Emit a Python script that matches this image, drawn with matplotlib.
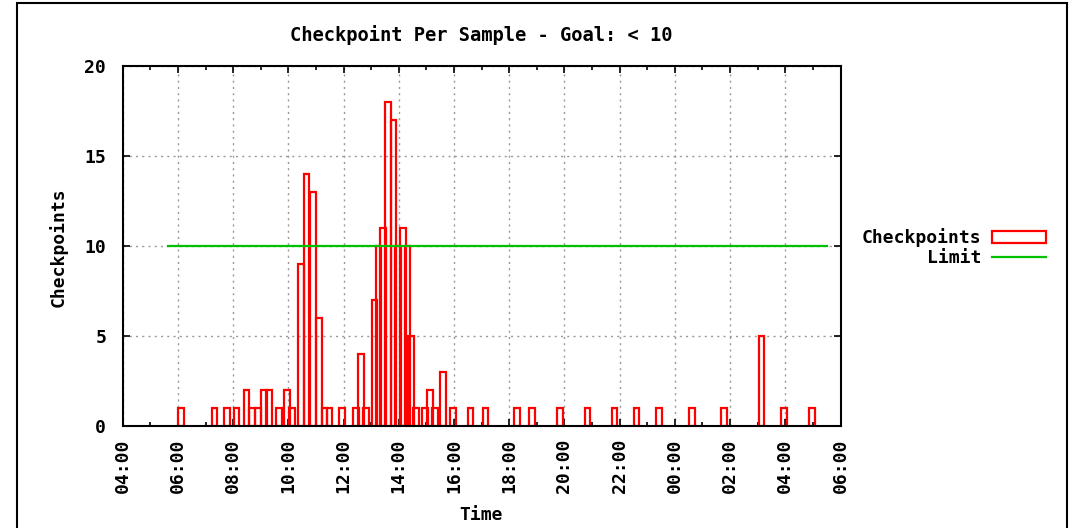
import matplotlib
matplotlib.use("Agg")
import matplotlib.pyplot as plt
import pandas as pd
from matplotlib.patches import Rectangle
from matplotlib.ticker import FuncFormatter, MultipleLocator

# Samples on the first day (HH:MM) and their checkpoint counts.
DAY1_TIMES = [
    "06:07", "07:19", "07:47", "08:07", "08:29", "08:41", "08:54", "09:07",
    "09:18", "09:40", "09:57", "10:08", "10:27", "10:39", "10:53", "11:07",
    "11:18", "11:29", "11:57", "12:27", "12:38", "12:49", "13:07", "13:16",
    "13:26", "13:37", "13:48", "13:58", "14:09", "14:19", "14:27", "14:37",
    "14:57", "15:08", "15:19", "15:36", "15:58", "16:36", "17:08", "18:17",
    "18:49", "19:50", "20:50", "21:49", "22:37", "23:26",
]
DAY1_COUNTS = [
    1, 1, 1, 1, 2, 1, 1, 2,
    2, 1, 2, 1, 9, 14, 13, 6,
    1, 1, 1, 1, 4, 1, 7, 10,
    11, 18, 17, 10, 11, 10, 5, 1,
    1, 2, 1, 3, 1, 1, 1, 1,
    1, 1, 1, 1, 1, 1,
]
# Samples after midnight.
DAY2_TIMES = ["00:37", "01:47", "03:08", "03:57", "04:58"]
DAY2_COUNTS = [1, 1, 5, 1, 1]

LIMIT = 10
LIMIT_START = "05:38"   # first sample, day 1
LIMIT_END = "05:31"     # last sample, day 2

X_RANGE = (4, 30)       # 04:00 to 06:00 next day, in hours
BOX_WIDTH = 0.2         # hours


def to_hours(times, day):
    td = pd.to_timedelta([t + ":00" for t in times])
    return (td / pd.Timedelta(hours=1)).to_numpy() + 24 * day


x = list(to_hours(DAY1_TIMES, 0)) + list(to_hours(DAY2_TIMES, 1))
counts = DAY1_COUNTS + DAY2_COUNTS
limit_x = [to_hours([LIMIT_START], 0)[0], to_hours([LIMIT_END], 1)[0]]

plt.rcParams["font.family"] = ["DejaVu Sans Mono"]
plt.rcParams["font.weight"] = "bold"
plt.rcParams["font.size"] = 13

fig = plt.figure(figsize=(10.74, 5.28), dpi=100)
ax = fig.add_axes([0.1143, 0.1938, 0.6683, 0.681])

bars = ax.bar(x, counts, width=BOX_WIDTH, fill=False, edgecolor="#ff0000",
              linewidth=1.6, label="Checkpoints")
limit_line, = ax.plot(limit_x, [LIMIT, LIMIT], color="#00c000", linewidth=1.6,
                      label="Limit")

ax.set_xlim(*X_RANGE)
ax.set_ylim(0, 20)
ax.xaxis.set_major_locator(MultipleLocator(2))
ax.xaxis.set_minor_locator(MultipleLocator(1))
ax.xaxis.set_major_formatter(FuncFormatter(lambda v, _: "%02d:00" % (int(round(v)) % 24)))
ax.yaxis.set_major_locator(MultipleLocator(5))
ax.tick_params(which="both", direction="in", top=True, right=True, width=1.2)
ax.tick_params(which="major", length=5)
ax.tick_params(which="minor", length=3)
ax.tick_params(axis="x", which="major", pad=9, labelrotation=90)
ax.tick_params(axis="y", which="major", pad=12)
for s in ax.spines.values():
    s.set_linewidth(1.5)
ax.grid(True, which="major", color="#999999", linestyle=(0, (1.5, 3)), linewidth=1)
ax.set_axisbelow(True)

fig.text(481 / 1074, 1 - 35 / 528, "Checkpoint Per Sample - Goal: < 10",
         ha="center", va="center", fontsize=13.5)
fig.text(481 / 1074, 1 - 515 / 528, "Time", ha="center", va="center")
fig.text(58 / 1074, 1 - 247 / 528, "Checkpoints", rotation=90,
         ha="center", va="center")

fig.legend([bars, limit_line], ["Checkpoints", "Limit"],
           loc="upper right", bbox_to_anchor=(1046 / 1074, 1 - 228 / 528),
           frameon=False, markerfirst=False, handlelength=3.0,
           handleheight=0.65, borderpad=0, borderaxespad=0,
           labelspacing=0.1, handletextpad=0.6)

fig.add_artist(Rectangle((17 / 1074, -0.02), (1067 - 17) / 1074, 1.02 - 3 / 528,
                         transform=fig.transFigure, fill=False,
                         edgecolor="black", linewidth=1.5))

fig.savefig("out.png", dpi=100)
